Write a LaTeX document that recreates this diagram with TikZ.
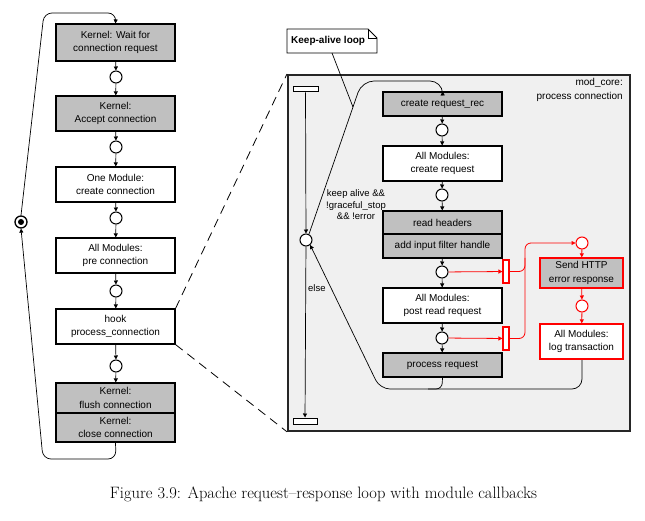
\documentclass[tikz,border=0pt]{standalone}
\usepackage{fontspec}
\newfontfamily\dia{Liberation Sans}
\usetikzlibrary{arrows.meta,calc}
\definecolor{boxgray}{HTML}{C0C0C0}
\definecolor{panelfill}{HTML}{F0F0F0}
\definecolor{errred}{HTML}{FF0000}
\begin{document}
\begin{tikzpicture}[x=1pt,y=-1pt,
  box/.style={draw, line width=1.1pt, minimum width=119, inner sep=0pt, align=center,
    font=\dia\fontsize{10}{13.5}\selectfont, fill=white},
  gbox/.style={box, fill=boxgray},
  rbox/.style={box, draw=errred, line width=1.3pt, minimum width=83},
  rgbox/.style={rbox, fill=boxgray},
  circ/.style={circle, draw, fill=white, minimum size=12, inner sep=0pt, line width=1pt},
  rcirc/.style={circ, draw=errred},
  conn/.style={line width=0.7pt, -{Triangle[length=4pt,width=4pt]}},
  plain/.style={line width=0.7pt},
  rconn/.style={line width=0.8pt, draw=errred, -{Triangle[length=4pt,width=4pt]}},
  rbar/.style={draw=errred, fill=white, line width=1.1pt, minimum width=6, minimum height=23, inner sep=0pt},
  sbar/.style={draw, fill=white, line width=1pt, inner sep=0pt},
  dashline/.style={line width=0.8pt, dash pattern=on 9pt off 6pt},
  lbl/.style={font=\dia\fontsize{9.5}{11.5}\selectfont, align=center, inner sep=0pt}
]
\useasboundingbox (0,0) rectangle (645,521);
\fill[white] (0,0) rectangle (645,521);

% ---------- right panel ----------
\node[draw=black!85, fill=panelfill, line width=1.8pt, minimum width=342, minimum height=356, anchor=north west, inner sep=0pt] (panel) at (287,74) {};

% ---------- left column ----------
\node[gbox, minimum height=37] (k1) at (115.5,42.5) {Kernel: Wait for\\connection request};
\node[circ] (lc1) at (116,77) {};
\node[gbox, minimum height=35] (k2) at (115.5,113.5) {Kernel:\\Accept connection};
\node[circ] (lc2) at (116,147) {};
\node[box, minimum height=35] (k3) at (115.5,184.5) {One Module:\\create connection};
\node[circ] (lc3) at (116,218) {};
\node[box, minimum height=35] (k4) at (115.5,255.5) {All Modules:\\pre connection};
\node[circ] (lc4) at (116,291) {};
\node[box, minimum height=35] (k5) at (115.5,326.5) {hook\\process\_connection};
\node[circ] (lc5) at (116,366) {};
\node[gbox, minimum height=30] (k6a) at (115.5,398) {Kernel:\\flush connection};
\node[gbox, minimum height=29] (k6b) at (115.5,427.5) {Kernel:\\close connection};

\draw[conn] (k1) -- (lc1);
\draw[conn] (lc1) -- (k2);
\draw[conn] (k2) -- (lc2);
\draw[conn] (lc2) -- (k3);
\draw[conn] (k3) -- (lc3);
\draw[conn] (lc3) -- (k4);
\draw[conn] (k4) -- (lc4);
\draw[conn] (lc4) -- (k5);
\draw[conn] (k5) -- (lc5);
\draw[conn] (lc5) -- (k6a);

% bullseye and outer loop
\node[circle, draw, line width=1.3pt, fill=white, minimum size=12, inner sep=0pt] (bull) at (21,222) {};
\fill (bull.center) circle (3);
\draw[conn, rounded corners=8] (k6b.south) -- (116,459) -- (43,459) -- (bull.south);
\draw[conn, rounded corners=8] (bull.north) -- (44,13) -- (116,13) -- (k1.north);

% dashed zoom lines
\draw[dashline] (k5.north east) -- (panel.north west);
\draw[dashline] (k5.south east) -- (panel.south west);

% ---------- panel content ----------
\node[font=\dia\fontsize{10}{14}\selectfont, align=right, anchor=north east, inner sep=0pt] (modcore) at (623,78) {mod\_core:\\process connection};

\node[sbar, minimum width=25, minimum height=5] (tb) at (305.5,89.5) {};
\node[circ] (c0) at (306,240) {};
\node[sbar, minimum width=24, minimum height=6] (bb) at (305,421) {};
\draw[conn] (tb) -- (c0);
\draw[conn] (c0) -- (bb);
\node[lbl, anchor=west] (elsel) at (308,288) {else};

\node[gbox, minimum height=24] (cr) at (442.5,104) {create request\_rec};
\node[circ] (c1) at (442,130) {};
\node[box, minimum height=35] (cq) at (442.5,163.5) {All Modules:\\create request};
\node[circ] (c2) at (442,195) {};
\node[gbox, minimum height=23] (rh) at (442.5,222.5) {read headers};
\node[gbox, minimum height=24] (af) at (442.5,246) {add input filter handle};
\node[circ] (c3) at (442,272) {};
\node[box, minimum height=35] (pq) at (442.5,305.5) {All Modules:\\post read request};
\node[circ] (c4) at (442,338) {};
\node[gbox, minimum height=24] (pr) at (442.5,365) {process request};

\draw[conn] (cr) -- (c1);
\draw[conn] (c1) -- (cq);
\draw[conn] (cq) -- (c2);
\draw[conn] (c2) -- (rh);
\draw[conn] (af) -- (c3);
\draw[conn] (c3) -- (pq);
\draw[conn] (pq) -- (c4);
\draw[conn] (c4) -- (pr);

% keep-alive loop line
\coordinate (lcorner) at (362,81);
\draw[conn, rounded corners=12] (c0.63) -- (lcorner) -- (442,81) -- (cr.north);
\coordinate (kj) at ($(c0.63)!0.83!(lcorner)$);
\node[lbl] (guard) at (356,205) {keep alive \&\&\\!graceful\_stop\\\&\& !error};

% else return line
\draw[conn, rounded corners=10] (582,359) -- (582,389) -- (380,389) -- (c0.-50);
\draw[plain, rounded corners=6] (pr.south) -- (442,389) -- (428,389);

% red error path
\node[rbar] (rb1) at (506,271.5) {};
\node[rbar] (rb2) at (506,338.5) {};
\node[rcirc] (ec1) at (582,243) {};
\node[rgbox, minimum height=30] (se) at (581.5,273) {Send HTTP\\error response};
\node[rcirc] (ec2) at (582,306) {};
\node[rbox, minimum height=35] (lt) at (581.5,341.5) {All Modules:\\log transaction};

\draw[rconn] (c3) -- (rb1);
\draw[rconn] (c4) -- (rb2);
\draw[rconn, rounded corners=6] (rb2.east) -- (525,338.5) -- (525,243) -- (ec1);
\draw[line width=0.8pt, draw=errred, rounded corners=6] (rb1.east) -- (525,271.5) -- (525,258);
\draw[rconn] (ec1) -- (se);
\draw[rconn] (se) -- (ec2);
\draw[rconn] (ec2) -- (lt);

% note
\draw[line width=0.8pt, fill=white] (287,29) -- (368,29) -- (377,38) -- (377,53) -- (287,53) -- cycle;
\draw[line width=0.6pt] (368,29) -- (368,38) -- (377,38);
\node[font=\dia\bfseries\fontsize{10}{12}\selectfont, anchor=west, inner sep=0pt] (notetxt) at (291,41) {Keep-alive loop};
\coordinate (notec) at (332,53);
\draw[plain] (notec) -- (kj);

% caption
\node[font=\fontsize{16.5}{19}\selectfont, inner sep=0pt] (cap) at (323.5,494) {Figure 3.9: Apache request--response loop with module callbacks};
\end{tikzpicture}
\end{document}
